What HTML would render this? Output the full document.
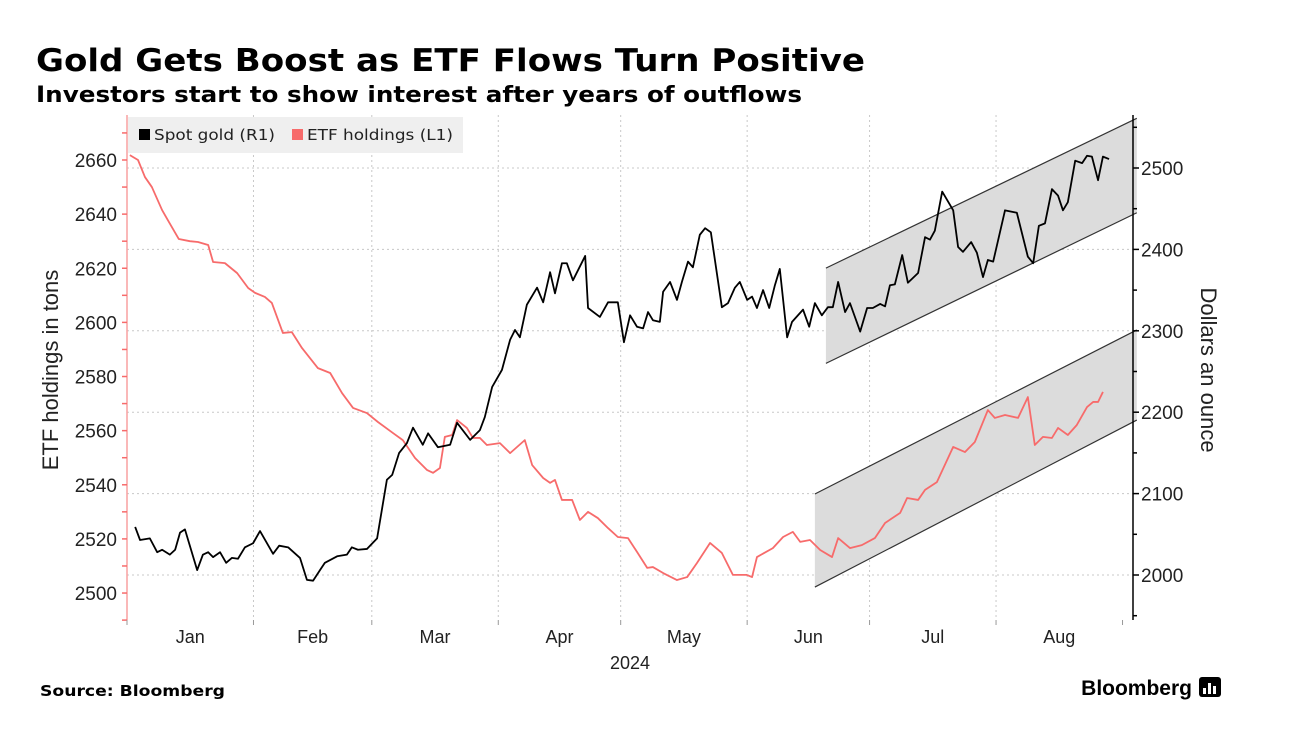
<!DOCTYPE html>
<html><head><meta charset="utf-8">
<style>
body{margin:0;background:#fff;font-family:"Liberation Sans",sans-serif;}
svg{display:block}
.dv{font-family:"DejaVu Sans",sans-serif;}
</style></head>
<body>
<svg id="c" width="1292" height="729" xmlns="http://www.w3.org/2000/svg">
<text class="dv" x="36" y="71" font-size="31" font-weight="bold" fill="#000" textLength="829" lengthAdjust="spacingAndGlyphs">Gold Gets Boost as ETF Flows Turn Positive</text>
<text class="dv" x="36" y="102" font-size="22" font-weight="bold" fill="#000" textLength="766" lengthAdjust="spacingAndGlyphs">Investors start to show interest after years of outflows</text>
<g id="grid"></g>
<g id="channels"></g>
<g id="series"></g>
<g id="axes"></g>
<g>
<rect x="128" y="117" width="335" height="36" fill="#efefef"/>
<rect x="139" y="129" width="11" height="11" fill="#000"/>
<text class="dv" x="154" y="140" font-size="15" fill="#222" textLength="121" lengthAdjust="spacingAndGlyphs">Spot gold (R1)</text>
<rect x="292" y="129" width="11" height="11" fill="#f76b6b"/>
<text class="dv" x="307" y="140" font-size="15" fill="#222" textLength="146" lengthAdjust="spacingAndGlyphs">ETF holdings (L1)</text>
</g>
<text transform="translate(58,370) rotate(-90)" text-anchor="middle" font-size="22" fill="#222">ETF holdings in tons</text>
<text transform="translate(1201,370) rotate(90)" text-anchor="middle" font-size="22" fill="#222">Dollars an ounce</text>
<text x="630" y="669" text-anchor="middle" font-size="18" fill="#222">2024</text>
<text class="dv" x="40" y="696" font-size="15" font-weight="bold" fill="#000" textLength="185" lengthAdjust="spacingAndGlyphs">Source: Bloomberg</text>
<text x="1192" y="695" text-anchor="end" font-size="21" font-weight="bold" fill="#000">Bloomberg</text>
<g><rect x="1199" y="677" width="22" height="20" rx="3" fill="#000"/><rect x="1203" y="688" width="3" height="6" fill="#fff"/><rect x="1208" y="683" width="3" height="11" fill="#fff"/><rect x="1213" y="686" width="3" height="8" fill="#fff"/></g>
</svg>
<script>
const etfDays=[0.7,2.7,4.4,6.1,8.6,10,12.7,15.4,17.4,19.9,21.1,24,27,29.7,31.4,33.8,35.5,38.2,40.4,42.9,46.8,49.8,52.7,55.4,58.8,61.5,65.2,67.6,70.6,73.5,75,76.7,77.9,79.7,80.9,83.3,84.8,86.5,88.2,91.4,93.9,97.5,99.3,102,103.7,104.9,106.6,109.1,111,113,115.4,117.9,120.3,122.8,125,127.5,128.9,131.4,134.8,137.3,139.7,142.9,145.8,148.5,151.9,153.2,154.4,158.3,160.8,163.2,165,167.4,169.9,172.8,174.3,177.2,180.1,183.3,185.8,189.5,191.2,193.9,195.6,198.5,202.5,205.4,207.8,211,212.7,215.2,218.4,220.8,222.5,224.5,226.7,228.2,230.6,232.8,235.3,236.8,238,239.2];
const etfTons=[2661.8,2660,2653.7,2650,2641.5,2637.8,2630.8,2630,2629.7,2628.6,2622.3,2621.9,2618.2,2612.7,2610.9,2609.4,2607.2,2596.1,2596.4,2590.5,2583.1,2581.3,2573.9,2568.4,2566.5,2563.2,2559.1,2556.5,2549.9,2545.5,2544.4,2546.2,2557.7,2558.4,2563.9,2561,2557.3,2557.3,2554.7,2555.4,2551.7,2556.5,2547.3,2542.5,2540.7,2541.8,2534.4,2534.4,2527,2530,2527.7,2524,2520.7,2520.3,2515.2,2509.3,2509.6,2507.4,2504.8,2505.9,2511.1,2518.5,2514.8,2506.7,2506.7,2505.9,2513.3,2516.6,2520.7,2522.6,2518.9,2519.6,2515.9,2513.3,2520.3,2516.6,2517.7,2520.3,2525.9,2529.6,2535.1,2534.4,2538.1,2541,2554,2552.1,2555.8,2567.6,2564.7,2565.8,2564.7,2572.4,2554.7,2557.7,2557.3,2561,2558.4,2562.1,2568.7,2570.6,2570.6,2574.3];
const goldDays=[2,3.2,5.6,7.4,8.6,10.5,11.8,13,14.2,17.2,18.6,19.9,21.1,22.8,24.3,25.7,27.2,28.9,30.9,32.6,35.8,37.3,39.5,42.4,44.1,45.6,47.3,48.5,51.5,53.9,55.1,56.6,58.8,61.3,63.7,65,66.7,68.6,70.1,72.5,73.8,76.2,79.2,80.9,84.1,86.5,87.7,89.5,91.9,93.9,95.1,96.3,98,100.5,102,103.7,104.9,106.6,107.8,109.3,112.3,113,115.9,117.9,120.3,121.8,123.3,125,126.5,127.7,128.9,130.6,131.4,133.1,134.8,136,137.5,138.7,140.4,141.7,143.1,145.8,147.3,149,150.2,152,153.2,154.4,155.9,157.4,158.8,160,161.8,163,165.7,167.2,168.6,170.3,171.8,173,174.3,176,177.2,179.7,181.4,182.8,184.6,185.8,187,188.2,190,191.4,193.9,195.6,196.8,198,199.8,202.5,203.7,204.9,206.9,208.3,209.8,211,212.3,215.2,218.1,220.8,222.1,223.5,225,226.7,228.2,229.4,230.6,232.4,234.1,235.3,236.5,238,239.2,240.7];
const goldPrice=[2059,2043,2045,2028,2031,2025,2031,2052,2056,2006,2025,2028,2022,2028,2015,2021,2020,2034,2039,2054,2026,2036,2034,2021,1994,1993,2006,2015,2023,2025,2034,2031,2032,2045,2117,2123,2150,2162,2181,2160,2174,2157,2160,2187,2166,2178,2194,2231,2252,2289,2301,2292,2332,2353,2335,2372,2346,2383,2383,2362,2392,2328,2317,2335,2335,2286,2319,2305,2303,2323,2313,2311,2348,2360,2338,2360,2385,2378,2418,2426,2421,2329,2334,2353,2360,2338,2342,2328,2350,2328,2356,2376,2292,2311,2326,2305,2334,2319,2329,2329,2360,2323,2334,2299,2328,2328,2333,2330,2356,2357,2393,2359,2371,2415,2412,2423,2471,2448,2403,2397,2409,2396,2366,2387,2385,2448,2445,2391,2383,2429,2432,2474,2466,2448,2458,2509,2506,2515,2514,2485,2514,2511];
const leftTicks=[2500,2520,2540,2560,2580,2600,2620,2640,2660];
const rightTicks=[2000,2100,2200,2300,2400,2500];
const monthLabels=["Jan","Feb","Mar","Apr","May","Jun","Jul","Aug"];
const monthStarts=[0,31,60,91,121,152,182,213,244];
const goldChannelDays=[171.3,247.5];
const goldChannelUpper=[2377,2561];
const goldChannelLower=[2260,2445];
const etfChannelDays=[168.6,247.5];
const etfChannelUpper=[2536.6,2597.2];
const etfChannelLower=[2502.2,2563.9];

const X0=127,X1=1133,Y0=115,Y1=620;
const xS=d=>127+d*4.08;
const yL=t=>160+(2660-t)*2.7065;
const yR=g=>168+(2500-g)*0.814;
const NS="http://www.w3.org/2000/svg";
function mk(tag,attrs,parent){const e=document.createElementNS(NS,tag);for(const k in attrs)e.setAttribute(k,attrs[k]);document.getElementById(parent).appendChild(e);return e;}

rightTicks.forEach(v=>{
  const l=mk('line',{x1:X0,x2:X1,y1:yR(v),y2:yR(v),stroke:'#c8c8c8','stroke-dasharray':'2,3'},'grid');
  
  
});
monthStarts.slice(1,8).forEach(d=>{
  const l=mk('line',{x1:xS(d),x2:xS(d),y1:Y0,y2:Y1,stroke:'#c8c8c8','stroke-dasharray':'2,3'},'grid');
  
  
});
function channel(days,up,lo,ys,name){
  const p=`${xS(days[0])},${ys(up[0])} ${xS(days[1])},${ys(up[1])} ${xS(days[1])},${ys(lo[1])} ${xS(days[0])},${ys(lo[0])}`;
  const poly=mk('polygon',{points:p,fill:'#dcdcdc'},'channels');
  
  
  mk('line',{x1:xS(days[0]),y1:ys(up[0]),x2:xS(days[1]),y2:ys(up[1]),stroke:'#333','stroke-width':1.2},'channels');
  mk('line',{x1:xS(days[0]),y1:ys(lo[0]),x2:xS(days[1]),y2:ys(lo[1]),stroke:'#333','stroke-width':1.2},'channels');
}
channel(goldChannelDays,goldChannelUpper,goldChannelLower,yR,'gold-trend-channel');
channel(etfChannelDays,etfChannelUpper,etfChannelLower,yL,'etf-trend-channel');
const pe=mk('polyline',{points:etfDays.map((d,i)=>xS(d)+','+yL(etfTons[i])).join(' '),fill:'none',stroke:'#f76b6b','stroke-width':1.8,'stroke-linejoin':'round'},'series');


const pg=mk('polyline',{points:goldDays.map((d,i)=>xS(d)+','+yR(goldPrice[i])).join(' '),fill:'none',stroke:'#000','stroke-width':1.8,'stroke-linejoin':'round'},'series');


const la=mk('line',{x1:X0,x2:X0,y1:Y0,y2:Y1,stroke:'#f9a0a0','stroke-width':1.5},'axes');


for(let t=2490;t<=2670;t+=10){mk('line',{x1:X0-5,x2:X0,y1:yL(t),y2:yL(t),stroke:'#f76b6b','stroke-width':1.5},'axes');}
leftTicks.forEach(t=>{
  const tx=mk('text',{x:117,y:yL(t)+7,'text-anchor':'end','font-size':19,fill:'#222'},'axes');
  tx.textContent=t;
  
  
});
const ra=mk('line',{x1:X1,x2:X1,y1:Y0,y2:Y1,stroke:'#000','stroke-width':1.5},'axes');


for(let g=1950;g<=2550;g+=50){mk('line',{x1:X1,x2:X1+(g%100?4:6),y1:yR(g),y2:yR(g),stroke:'#000','stroke-width':1.5},'axes');}
rightTicks.forEach(g=>{
  const tx=mk('text',{x:1141,y:yR(g)+7,'font-size':19,fill:'#222'},'axes');
  tx.textContent=g;
  
  
});
monthStarts.forEach(d=>{mk('line',{x1:xS(d),x2:xS(d),y1:Y1,y2:Y1+5,stroke:'#999'},'axes');});
monthLabels.forEach((m,i)=>{
  const tx=mk('text',{x:(xS(monthStarts[i])+xS(monthStarts[i+1]))/2,y:643,'text-anchor':'middle','font-size':18,fill:'#222'},'axes');
  tx.textContent=m;
  
  
});
</script>
</body></html>
